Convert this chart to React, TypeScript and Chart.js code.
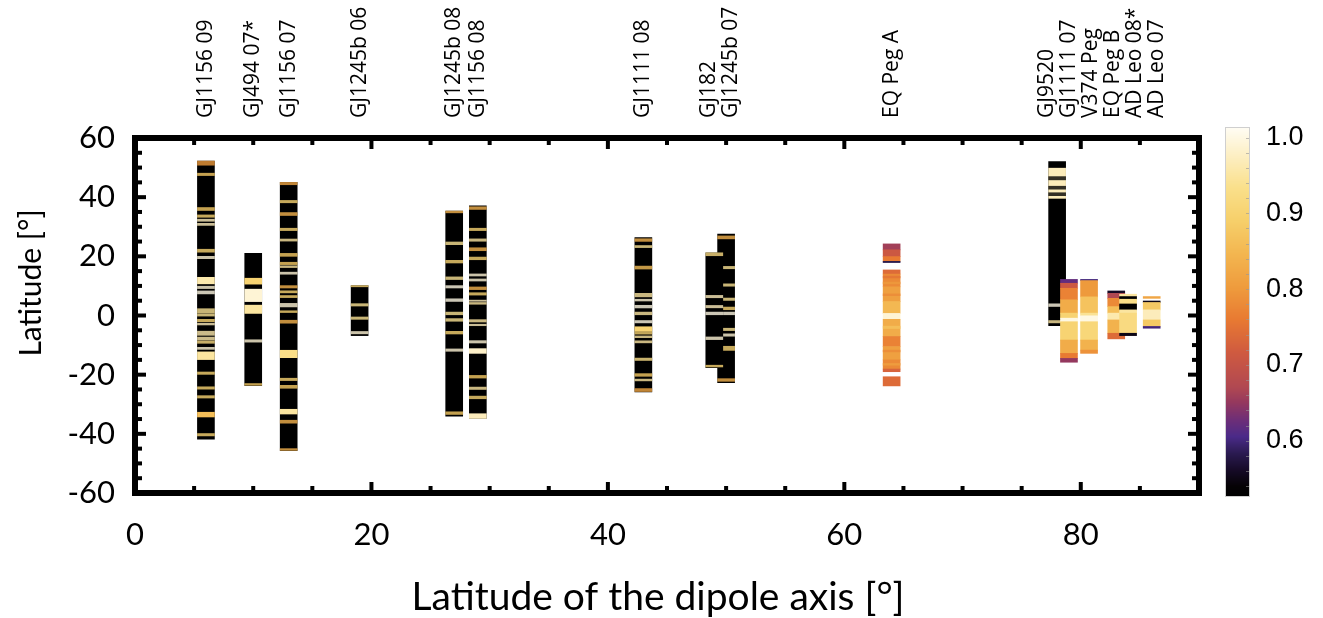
import React, { useEffect, useRef } from "react";
import { Chart, registerables } from "chart.js";

Chart.register(...registerables);

// ---- data ----
const starLabels = [
  "GJ1156 09", "GJ494 07*", "GJ1156 07", "GJ1245b 06", "GJ1245b 08", "GJ1156 08",
  "GJ1111 08", "GJ1245b 07", "GJ182", "EQ Peg A", "GJ9520", "GJ1111 07",
  "V374 Peg", "EQ Peg B", "AD Leo 08*", "AD Leo 07",
];
// latitude of the dipole axis (x)
const dipoleLatitude = [6, 10, 13, 19, 27, 29, 43, 50, 49, 64, 78, 79, 80.7, 83, 84, 86];

// blocks: [upper latitude, lower latitude, value]
// stripes: [latitude, value, thickness in latitude]
const blocksGJ1156_09 = [[52.2, -41.8, 0.52]];
const stripesGJ1156_09 = [
  [51.5, 0.8, 1.4], [47.7, 0.88, 0.8], [36.0, 0.88, 1.0], [33.6, 0.9, 0.8], [32.2, 0.97, 0.7],
  [30.8, 0.97, 0.7], [21.9, 0.9, 1.0], [19.6, 0.99, 0.8], [11.8, 0.96, 2.2], [9.5, 0.99, 0.8],
  [7.8, 1.0, 1.0], [1.6, 0.94, 1.4], [0.2, 0.94, 0.8], [-1.7, 0.9, 0.8], [-2.9, 0.97, 0.6],
  [-6.0, 0.96, 1.4], [-7.8, 0.96, 1.0], [-9.0, 0.92, 0.8], [-11.1, 0.99, 0.7], [-13.6, 0.95, 2.6],
  [-19.5, 0.9, 0.8], [-24.5, 0.9, 0.8], [-27.5, 0.9, 0.8], [-33.5, 0.86, 1.6], [-40.3, 0.9, 0.8],
];
const blocksGJ494_07 = [[21.0, -23.7, 0.52]];
const stripesGJ494_07 = [[11.6, 0.9, 2.0], [6.8, 0.99, 4.2], [2.1, 0.95, 2.8], [-8.6, 0.99, 0.8], [-23.3, 0.88, 0.6]];
const blocksGJ1156_07 = [[45.0, -45.7, 0.52]];
const stripesGJ1156_07 = [
  [44.6, 0.82, 0.8], [38.5, 0.9, 0.8], [34.3, 0.84, 1.0], [29.1, 0.9, 0.8], [25.5, 0.95, 0.7],
  [20.5, 0.88, 1.0], [17.6, 0.88, 0.8], [16.5, 0.95, 0.6], [14.3, 0.99, 0.7], [9.7, 0.84, 0.8],
  [8.0, 0.9, 0.7], [6.4, 0.9, 0.7], [3.5, 0.99, 1.2], [1.3, 0.9, 0.6], [-2.1, 0.84, 1.0],
  [-13.0, 0.93, 2.5], [-21.6, 0.9, 0.8], [-24.1, 0.88, 1.0], [-32.5, 0.95, 1.6], [-35.9, 0.84, 1.0],
  [-45.3, 0.84, 0.6],
];
const blocksGJ1245b_06 = [[10.1, -6.8, 0.52]];
const stripesGJ1245b_06 = [[9.9, 0.9, 0.4], [3.6, 0.94, 0.8], [-0.9, 0.94, 0.8], [-5.8, 0.99, 0.8]];
const blocksGJ1245b_08 = [[35.3, -34.0, 0.52]];
const stripesGJ1245b_08 = [
  [35.0, 0.84, 0.6], [24.4, 0.94, 0.9], [18.2, 0.9, 0.9], [12.6, 0.94, 0.9], [9.7, 1.0, 0.8],
  [5.2, 1.0, 0.9], [0.7, 0.94, 0.9], [-1.5, 0.94, 0.9], [-5.8, 0.9, 0.9], [-11.7, 0.99, 0.8],
  [-33.0, 0.88, 0.9],
];
const blocksGJ1156_08 = [[37.1, -34.8, 0.52]];
const stripesGJ1156_08 = [
  [36.3, 0.84, 0.9], [29.1, 0.9, 0.8], [25.5, 0.95, 0.8], [22.4, 0.84, 1.0], [19.3, 0.9, 0.9],
  [13.7, 0.99, 0.7], [12.0, 0.99, 0.7], [9.2, 0.84, 0.9], [7.3, 0.9, 0.8], [5.0, 0.97, 0.4],
  [4.1, 0.95, 0.6], [-1.8, 0.95, 0.8], [-3.2, 0.97, 0.5], [-8.9, 0.99, 0.8], [-12.0, 0.98, 1.6],
  [-20.7, 0.88, 0.9], [-24.6, 0.95, 0.8], [-27.7, 0.9, 0.9], [-34.0, 0.97, 1.6],
];
const blocksGJ1111_08 = [[26.3, -25.8, 0.52]];
const stripesGJ1111_08 = [
  [25.5, 0.84, 0.9], [23.3, 0.94, 0.7], [16.2, 0.86, 1.0], [6.9, 0.95, 1.2], [5.2, 0.99, 0.6],
  [3.0, 1.0, 0.9], [0.7, 0.95, 0.9], [-2.1, 1.0, 0.8], [-4.6, 0.9, 1.6], [-6.0, 0.9, 0.6],
  [-7.2, 0.95, 0.6], [-8.9, 0.95, 0.7], [-14.8, 0.93, 0.8], [-20.1, 0.88, 0.9], [-21.8, 0.95, 0.6],
  [-25.2, 0.82, 1.0],
];
const blocksGJ1245b_07 = [[27.5, -22.7, 0.52]];
const stripesGJ1245b_07 = [
  [26.4, 0.84, 1.0], [16.2, 0.94, 0.8], [10.3, 0.94, 0.8], [5.5, 0.94, 0.8], [2.4, 0.9, 0.9],
  [0.7, 1.0, 0.9], [-4.7, 0.94, 0.8], [-6.6, 0.99, 0.8], [-11.1, 0.9, 1.4], [-21.8, 0.84, 0.9],
];
const blocksGJ182 = [[21.2, -17.6, 0.52]];
const stripesGJ182 = [[20.7, 0.92, 1.0], [6.4, 0.97, 0.8], [3.0, 0.97, 0.8], [0.7, 1.0, 0.9], [-7.7, 0.99, 0.9], [-17.1, 0.9, 0.6]];
const blocksEQPegA = [
  [24.2, 22.2, 0.66], [22.2, 19.9, 0.71], [19.9, 18.3, 0.76], [18.3, 17.9, 0.58],
  [15.4, 14.0, 0.74], [14.0, 9.7, 0.78], [9.7, 4.7, 0.81], [4.7, 0.7, 0.85], [0.7, -1.3, 0.99],
  [-1.3, -7.1, 0.83], [-7.1, -10.5, 0.77], [-10.5, -15.0, 0.81], [-15.0, -18.1, 0.78],
  [-18.1, -19.0, 0.73], [-20.7, -23.8, 0.74],
];
const stripesEQPegA = [[13.0, 0.75, 0.6], [11.0, 0.8, 0.6], [7.0, 0.78, 0.6], [-4.0, 0.87, 0.8], [-12.0, 0.78, 0.6], [-16.5, 0.81, 0.6]];
const blocksGJ9520 = [[52.0, -3.4, 0.52], [49.8, 39.6, 0.97]];
const stripesGJ9520 = [[46.4, 0.52, 1.1], [43.2, 0.52, 1.0], [41.0, 0.52, 1.0], [3.5, 1.0, 0.9], [-2.1, 0.95, 0.8]];
const blocksGJ1111_07 = [
  [12.2, 10.9, 0.62], [10.9, 9.2, 0.71], [9.2, 5.3, 0.77], [5.3, 0.8, 0.83], [0.8, -0.9, 0.9],
  [-0.9, -2.1, 1.0], [-2.1, -8.3, 0.9], [-8.3, -12.8, 0.83], [-12.8, -14.5, 0.76], [-14.5, -15.8, 0.65],
];
const blocksV374Peg = [
  [12.2, 11.8, 0.6], [11.8, 6.3, 0.8], [6.3, 0.8, 0.87], [0.8, -0.1, 0.94], [-0.1, -2.1, 1.0],
  [-2.1, -8.3, 0.91], [-8.3, -11.7, 0.84], [-11.7, -12.8, 0.79],
];
const blocksEQPegB = [
  [8.3, 7.5, 0.56], [7.5, 5.8, 0.67], [5.8, 3.0, 0.78], [3.0, 0.8, 0.86], [0.8, -1.5, 0.96],
  [-1.5, -6.0, 0.84], [-6.0, -7.9, 0.74],
];
const blocksADLeo08 = [
  [7.2, 6.4, 0.95], [6.4, 5.5, 0.52], [5.5, 3.9, 0.93], [3.9, 1.9, 0.52], [1.9, 0.8, 0.95],
  [0.8, -6.0, 0.92], [-6.0, -6.8, 0.55],
];
const blocksADLeo07 = [
  [6.4, 5.8, 0.82], [4.9, 4.4, 0.55], [4.4, 1.9, 0.88], [1.9, -1.5, 0.97], [-1.5, -3.7, 0.88], [-3.7, -4.3, 0.6],
];

const starBlocks = [
  blocksGJ1156_09, blocksGJ494_07, blocksGJ1156_07, blocksGJ1245b_06, blocksGJ1245b_08, blocksGJ1156_08,
  blocksGJ1111_08, blocksGJ1245b_07, blocksGJ182, blocksEQPegA, blocksGJ9520, blocksGJ1111_07,
  blocksV374Peg, blocksEQPegB, blocksADLeo08, blocksADLeo07,
];
const starStripes = [
  stripesGJ1156_09, stripesGJ494_07, stripesGJ1156_07, stripesGJ1245b_06, stripesGJ1245b_08, stripesGJ1156_08,
  stripesGJ1111_08, stripesGJ1245b_07, stripesGJ182, stripesEQPegA, stripesGJ9520, [],
  [], [], [], [],
];

const xTickValues = [0, 20, 40, 60, 80];
const colorbarTicks = [0.6, 0.7, 0.8, 0.9, 1.0];
const xTitle = "Latitude of the dipole axis [°]";
const yTitle = "Latitude [°]";

// ---- colour map (inferno-like, as in the colour bar) ----
const cmapValues = [0.525, 0.54, 0.56, 0.583, 0.605, 0.627, 0.65, 0.67, 0.716, 0.76, 0.8, 0.847, 0.89, 0.935, 0.98, 1.014];
const cmapColors = [
  "#000000", "#050205", "#150a25", "#2a1a50", "#4a2a88", "#6d2e78", "#94385e", "#b04852",
  "#cf5a40", "#e87a32", "#ee9a3c", "#f3b650", "#f6cf6a", "#fae08c", "#fdf0c8", "#fffdf5",
];
const CB_MIN = 0.5257;
const CB_MAX = 1.0139;

function hexToRgb(h: string) {
  const n = parseInt(h.slice(1), 16);
  return [(n >> 16) & 255, (n >> 8) & 255, n & 255];
}
function colorFor(v: number, alpha = 1) {
  let i = 0;
  if (v <= cmapValues[0]) i = 0;
  else if (v >= cmapValues[cmapValues.length - 1]) i = cmapValues.length - 2;
  else while (i < cmapValues.length - 2 && v > cmapValues[i + 1]) i++;
  const a = hexToRgb(cmapColors[i]);
  const b = hexToRgb(cmapColors[i + 1]);
  let t = (v - cmapValues[i]) / (cmapValues[i + 1] - cmapValues[i]);
  t = Math.max(0, Math.min(1, t));
  const c = a.map((x, k) => Math.round(x + (b[k] - x) * t));
  return `rgba(${c[0]},${c[1]},${c[2]},${alpha})`;
}

const AXIS_FONT = "Lato";

const decorPlugin = {
  id: "decor",
  afterDraw(chart: any) {
    const { ctx, chartArea: a, scales } = chart;
    const xs = scales.x;
    const ys = scales.y;
    ctx.save();
    // inward ticks on all four sides
    ctx.strokeStyle = "#000";
    ctx.lineWidth = 4;
    ctx.lineCap = "butt";
    const seg = (x1: number, y1: number, x2: number, y2: number) => {
      ctx.beginPath();
      ctx.moveTo(x1, y1);
      ctx.lineTo(x2, y2);
      ctx.stroke();
    };
    for (let v = 5; v < 90; v += 5) {
      const px = xs.getPixelForValue(v);
      const len = v % 20 === 0 ? 11 : 7;
      seg(px, a.bottom, px, a.bottom - len);
      seg(px, a.top, px, a.top + len);
    }
    for (let v = -55; v < 60; v += 5) {
      const py = ys.getPixelForValue(v);
      const len = v % 20 === 0 ? 11 : 7;
      seg(a.left, py, a.left + len, py);
      seg(a.right, py, a.right - len, py);
    }
    // frame
    ctx.lineWidth = 6;
    ctx.strokeRect(a.left, a.top, a.right - a.left, a.bottom - a.top);

    // axis titles
    ctx.fillStyle = "#000";
    ctx.textAlign = "center";
    ctx.textBaseline = "middle";
    ctx.font = `39px ${AXIS_FONT}`;
    ctx.fillText(xTitle, (a.left + a.right) / 2 - 9, 597);
    ctx.save();
    ctx.font = `30px ${AXIS_FONT}`;
    ctx.translate(31, ys.getPixelForValue(11));
    ctx.rotate(-Math.PI / 2);
    ctx.fillText(yTitle, 0, 0);
    ctx.restore();

    // star labels above the plot, spread so they do not overlap
    const gap = 22;
    const items = starLabels
      .map((t, i) => ({ t, px: xs.getPixelForValue(dipoleLatitude[i]) }))
      .sort((p, q) => p.px - q.px);
    let groups = items.map((it) => [it]);
    const place = (g: any[]) => {
      const c = g.reduce((s, it) => s + it.px, 0) / g.length;
      return g.map((_, k) => c + (k - (g.length - 1) / 2) * gap);
    };
    let merged = true;
    while (merged) {
      merged = false;
      for (let i = 0; i < groups.length - 1; i++) {
        const pa = place(groups[i]);
        const pb = place(groups[i + 1]);
        if (pb[0] - pa[pa.length - 1] < gap - 0.01) {
          groups.splice(i, 2, groups[i].concat(groups[i + 1]));
          merged = true;
          break;
        }
      }
    }
    ctx.fillStyle = "#000";
    ctx.font = "21px 'Open Sans'";
    ctx.textAlign = "left";
    ctx.textBaseline = "middle";
    groups.forEach((g) => {
      const ps = place(g);
      g.forEach((it, k) => {
        ctx.save();
        ctx.translate(ps[k], a.top - 20);
        ctx.rotate(-Math.PI / 2);
        ctx.fillText(it.t, 0, 0);
        ctx.restore();
      });
    });

    // colour bar
    const cbTop = a.top - 11;
    const cbBottom = a.bottom + 4;
    const cbLeft = a.right + 26;
    const cbW = 25;
    const vAt = (py: number) => CB_MAX - ((py - cbTop) / (cbBottom - cbTop)) * (CB_MAX - CB_MIN);
    const pyAt = (v: number) => cbTop + ((CB_MAX - v) / (CB_MAX - CB_MIN)) * (cbBottom - cbTop);
    for (let py = cbTop; py < cbBottom; py++) {
      ctx.fillStyle = colorFor(vAt(py + 0.5));
      ctx.fillRect(cbLeft, py, cbW, 1);
    }
    ctx.strokeStyle = "#cfcfcf";
    ctx.lineWidth = 1;
    ctx.strokeRect(cbLeft + 0.5, cbTop + 0.5, cbW - 1, cbBottom - cbTop - 1);
    ctx.strokeStyle = "rgba(150,150,150,0.6)";
    for (let v = 0.54; v < 1.01; v += 0.02) {
      const py = Math.round(pyAt(v)) + 0.5;
      seg(cbLeft + cbW - 4, py, cbLeft + cbW - 1, py);
    }
    ctx.fillStyle = "#000";
    ctx.font = "27px 'Liberation Sans'";
    ctx.textAlign = "left";
    ctx.textBaseline = "middle";
    colorbarTicks.forEach((v) => {
      ctx.fillText(v.toFixed(1), cbLeft + 41, pyAt(v));
    });
    ctx.restore();
  },
};

export default function App() {
  const ref = useRef<HTMLCanvasElement>(null);
  useEffect(() => {
    const datasets = starLabels.map((name, i) => {
      const bands = [
        ...starBlocks[i].map(([hi, lo, v]) => ({ y: [lo, hi], c: colorFor(v, 1) })),
        ...starStripes[i].map(([lat, v, h]) => ({
          y: [lat - h / 2, lat + h / 2],
          c: colorFor(v, h >= 1.5 ? 1 : 0.8),
        })),
      ];
      return {
        label: name,
        data: bands.map((b) => ({ x: dipoleLatitude[i], y: b.y })),
        backgroundColor: bands.map((b) => b.c),
        barThickness: 17,
        grouped: false,
        borderWidth: 0,
        borderSkipped: false,
        order: starLabels.length - i,
      };
    });
    const chart = new Chart(ref.current as HTMLCanvasElement, {
      type: "bar",
      data: { datasets: datasets as any },
      options: {
        animation: false,
        responsive: false,
        events: [],
        layout: { padding: { top: 138, right: 124, left: 0, bottom: 0 } },
        plugins: { legend: { display: false }, tooltip: { enabled: false } },
        scales: {
          x: {
            type: "linear",
            min: 0,
            max: 90,
            offset: false,
            grid: { display: false, drawTicks: false },
            border: { display: false },
            afterBuildTicks: (scale: any) => {
              scale.ticks = xTickValues.map((v) => ({ value: v }));
            },
            ticks: {
              font: { family: AXIS_FONT, size: 31 },
              color: "#000",
              padding: 23,
              maxRotation: 0,
              autoSkip: false,
            },
            title: { display: false },
            afterFit: (scale: any) => {
              scale.height = 125;
            },
          },
          y: {
            type: "linear",
            min: -60,
            max: 60,
            grid: { display: false, drawTicks: false },
            border: { display: false },
            ticks: {
              stepSize: 20,
              font: { family: AXIS_FONT, size: 31 },
              color: "#000",
              padding: 20,
            },
            title: { display: false },
            afterFit: (scale: any) => {
              scale.width = 135;
            },
          },
        },
      },
      plugins: [decorPlugin],
    } as any);
    return () => chart.destroy();
  }, []);
  return (
    <div style={{ position: "absolute", left: 0, top: 0, width: 1323, height: 618, background: "#fff" }}>
      <canvas ref={ref} width={1323} height={618} style={{ display: "block" }} />
    </div>
  );
}
